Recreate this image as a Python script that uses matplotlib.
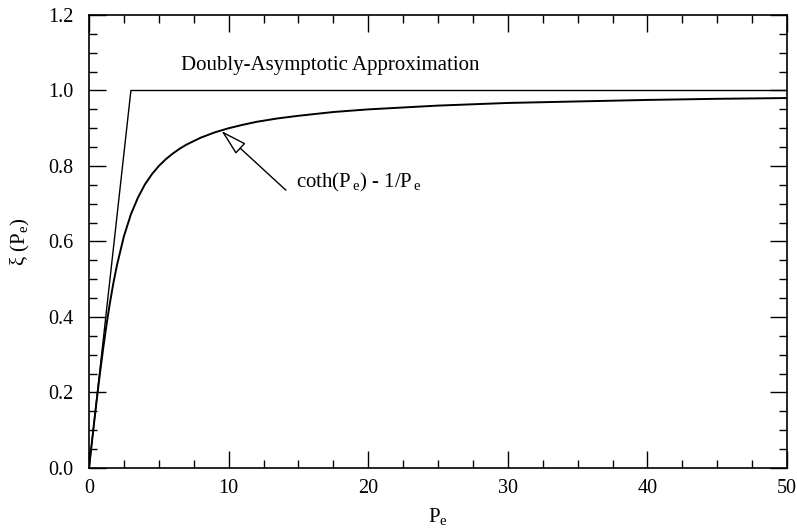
import matplotlib
matplotlib.use("Agg")
import matplotlib.pyplot as plt
from matplotlib.ticker import MultipleLocator

plt.rcParams["font.family"] = "Liberation Serif"
plt.rcParams["mathtext.fontset"] = "custom"
plt.rcParams["mathtext.rm"] = "Liberation Serif"
plt.rcParams["mathtext.it"] = "Liberation Serif:italic"

# coth(Pe) - 1/Pe
pe = [0, 0.25, 0.5, 0.75, 1.0, 1.25, 1.5, 1.75, 2.0, 2.5, 3.0, 3.5, 4.0, 4.5,
      5, 5.5, 6, 6.5, 7, 8, 9, 10, 11, 12, 13.5, 15, 17.5, 20, 25, 30, 35, 40, 45, 50]
xi = [0, 0.083, 0.164, 0.241, 0.313, 0.379, 0.438, 0.491, 0.537, 0.614, 0.672,
      0.716, 0.751, 0.778, 0.800, 0.818, 0.833, 0.846, 0.857, 0.875, 0.889,
      0.900, 0.909, 0.917, 0.926, 0.933, 0.943, 0.950, 0.960, 0.967, 0.971,
      0.975, 0.978, 0.980]

# doubly-asymptotic approximation
da_pe = [0, 3, 50]
da_xi = [0, 1.0, 1.0]

fig = plt.figure(figsize=(7.97, 5.30), dpi=100)
ax = fig.add_axes([0.1117, 0.1170, 0.8758, 0.8547])

ax.plot(da_pe, da_xi, color="black", lw=1.0)
ax.plot(pe, xi, color="black", lw=1.4)

ax.set_xlim(0, 50)
ax.set_ylim(0, 1.2)
ax.xaxis.set_major_locator(MultipleLocator(10))
ax.xaxis.set_minor_locator(MultipleLocator(2.5))
ax.yaxis.set_major_locator(MultipleLocator(0.2))
ax.yaxis.set_minor_locator(MultipleLocator(0.05))
ax.yaxis.set_major_formatter(plt.FormatStrFormatter("%.1f"))
ax.tick_params(which="both", direction="in", top=True, right=True, labelsize=14.5)
ax.tick_params(which="major", length=12, width=1.0)
ax.tick_params(which="minor", length=6, width=1.0)
ax.tick_params(axis="x", which="major", pad=8)
ax.tick_params(axis="y", which="major", pad=11)
for s in ax.spines.values():
    s.set_linewidth(1.2)

ax.set_xlabel(r"$\mathrm{P_e}$", fontsize=15, labelpad=6)
ax.set_ylabel(r"$\mathrm{\xi\ (P_e)}$", fontsize=15, labelpad=12)

ax.text(6.62, 1.067, "Doubly-Asymptotic Approximation", fontsize=15, va="center")
ax.text(14.8, 0.755, r"coth(P$_{\,\mathrm{e}}$) - 1/P$_{\,\mathrm{e}}$", fontsize=15,
        va="center")
ax.annotate("", xy=(9.48, 0.893), xytext=(14.1, 0.736),
            arrowprops=dict(arrowstyle="-|>,head_length=1.1,head_width=0.3",
                            mutation_scale=15, facecolor="white",
                            edgecolor="black", lw=1.0, shrinkA=0, shrinkB=0))

fig.savefig("out.png", dpi=100)
